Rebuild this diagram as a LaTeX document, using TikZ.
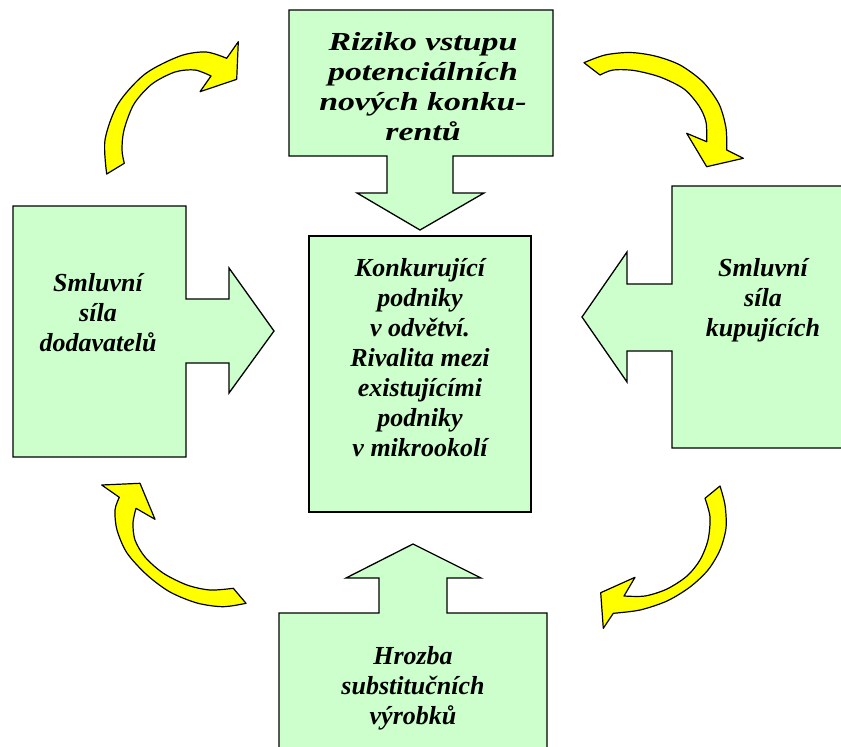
\documentclass[tikz,border=0pt]{standalone}
\usepackage{fontspec}
\setmainfont{Liberation Serif}
\newfontfamily\widefont{Liberation Serif}[FakeStretch=1.3]
\begin{document}
\begin{tikzpicture}[x=1pt,y=-1pt,
  forcebox/.style={fill=boxgreen, draw=black, line width=1.3pt, line join=miter},
  bendarrow/.style={fill=arrowyellow, draw=black, line width=1.2pt, line join=round},
  label/.style={align=center, inner sep=0pt, font=\fontsize{26}{30}\selectfont\bfseries\itshape},
  widelabel/.style={label, font=\widefont\fontsize{26}{30}\selectfont\bfseries\itshape}]
\definecolor{boxgreen}{HTML}{CCFFCC}
\definecolor{arrowyellow}{HTML}{FFFF00}
\useasboundingbox (0,0) rectangle (841,747);
\clip (0,0) rectangle (841,747);

% top: threat of new entrants, block arrow pointing down
\draw[forcebox] (289,10) -- (553,10) -- (553,156) -- (453,156) -- (453,193) -- (484,193)
  -- (420,230) -- (357,193) -- (387,193) -- (387,156) -- (289,156) -- cycle;
% centre: rivalry
\draw[forcebox] (309,236) rectangle (531,512);
% left: suppliers, block arrow pointing right
\draw[forcebox] (13,206) -- (186,206) -- (186,299) -- (229,299) -- (229,268) -- (274,331)
  -- (229,393) -- (229,363) -- (186,363) -- (186,457) -- (13,457) -- cycle;
% right: buyers, block arrow pointing left
\draw[forcebox] (860,186) -- (672,186) -- (672,284) -- (627,284) -- (627,252) -- (582,317)
  -- (627,382) -- (627,351) -- (672,351) -- (672,448) -- (860,448);
% bottom: substitutes, block arrow pointing up
\draw[forcebox] (279,760) -- (279,613) -- (379,613) -- (379,578) -- (346,578) -- (413,544)
  -- (481,578) -- (447,578) -- (447,613) -- (547,613) -- (547,760);

\node[widelabel] (entrants) at (423,87) {Riziko vstupu\\potenciálních\\nových konku-\\rentů};
\node[label] (rivalry) at (420,358) {Konkurující\\podniky\\v odvětví.\\Rivalita mezi\\existujícími\\podniky\\v mikrookolí};
\node[label] (suppliers) at (98,313) {Smluvní\\síla\\dodavatelů};
\node[label] (buyers) at (763,300) {Smluvní\\síla\\kupujících};
\node[label] (substitutes) at (413,688) {Hrozba\\substitučních\\výrobků};

% curved yellow arrows running clockwise
\draw[bendarrow] plot[smooth] coordinates {(106.7,174) (105,140) (118,104) (145,74) (180,56) (206,52) (226.7,58.3)}
  -- (238.3,41.7) -- (236.7,79.3) -- (200,91.7)
  -- plot[smooth] coordinates {(211,76) (195,70) (175,72) (152,84) (134,104) (124,130) (122,150) (124.3,163.3)} -- cycle;
\draw[bendarrow] plot[smooth] coordinates {(584,62.7) (605,55) (630,52.5) (655,56) (680,65) (703,82) (719,104) (726,128) (726.7,150)}
  -- (743.3,158.3) -- (706.7,166.7) -- (686.7,133.3)
  -- plot[smooth] coordinates {(706.7,141.7) (706,122) (699,106) (684,89) (660,77) (634,70.5) (613,70) (600,75)} -- cycle;
\draw[bendarrow] plot[smooth] coordinates {(720,486) (725,505) (726,528) (720,550) (708,570) (690,587) (667,601) (640,610) (613.3,613.3)}
  -- (603.3,628.3) -- (600.7,592.7) -- (635,577.3)
  -- plot[smooth] coordinates {(624,596) (645,596) (667,589) (687,576) (700,560) (708,540) (710,517) (705,498.3)} -- cycle;
\draw[bendarrow] plot[smooth] coordinates {(246,603.3) (223,606.7) (197,603) (170,592) (147,575) (127,553) (117,530) (115,510) (119.3,497.3)}
  -- (101.7,485) -- (140,483.3) -- (155,519.3)
  -- plot[smooth] coordinates {(136,508.3) (133,523) (135,540) (145,557) (163,573) (187,585) (210,590) (233.3,588.3)} -- cycle;
\end{tikzpicture}
\end{document}
